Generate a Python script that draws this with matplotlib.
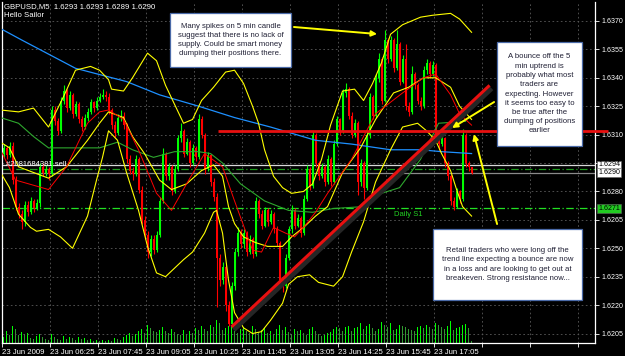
import matplotlib
matplotlib.use("Agg")
import matplotlib.pyplot as plt
import matplotlib.patheffects as pe
import matplotlib.transforms as mtrans
from matplotlib.patches import Rectangle
import numpy as np

plt.rcParams['font.family'] = ['Liberation Sans', 'DejaVu Sans']

PIP = 0.0001
BASE = 1.6200   # all *_pips values are pips above this price

# GBPUSD M5 bars, bar 0 = 05:05 on 23 Jun 2009
open_pips = [100, 103, 99, 104, 86, 72, 68, 64, 73, 69,
             75, 71, 74, 93, 90, 92, 89, 123, 117, 112,
             128, 133, 124, 131, 121, 126, 118, 114, 119, 122,
             127, 124, 128, 130, 131, 130, 123, 115, 111, 119,
             120, 115, 97, 91, 89, 97, 81, 65, 57, 48,
             55, 49, 57, 75, 100, 88, 93, 80, 92, 108,
             112, 100, 106, 95, 103, 98, 118, 110, 92, 99,
             85, 77, 45, 33, 40, 20, 10, 30, 48, 58,
             52, 58, 48, 55, 47, 75, 68, 62, 70, 64,
             68, 60, 53, 33, 30, 45, 60, 70, 62, 66,
             58, 76, 92, 83, 110, 95, 88, 93, 85, 97,
             85, 105, 118, 112, 132, 134, 120, 110, 116, 85,
             95, 82, 110, 130, 120, 140, 150, 128, 160, 150,
             160, 145, 158, 138, 150, 125, 122, 142, 136, 128,
             125, 144, 148, 142, 147, 110, 105, 108, 95, 88,
             75, 72, 80, 76, 110, 95, 93]
close_pips = [103, 99, 104, 86, 72, 68, 64, 73, 69, 75,
              71, 74, 93, 90, 92, 89, 123, 117, 112, 128,
              133, 124, 131, 121, 126, 118, 114, 119, 122, 127,
              124, 128, 130, 131, 130, 123, 115, 111, 119, 120,
              115, 97, 91, 89, 97, 81, 65, 57, 48, 55,
              49, 57, 75, 100, 88, 93, 80, 92, 108, 112,
              100, 106, 95, 103, 98, 118, 110, 92, 99, 85,
              77, 45, 33, 40, 20, 10, 30, 48, 58, 52,
              58, 48, 55, 47, 75, 68, 62, 70, 64, 68,
              60, 53, 33, 30, 45, 60, 70, 62, 66, 58,
              76, 92, 83, 110, 95, 88, 93, 85, 97, 85,
              105, 118, 112, 132, 134, 120, 110, 116, 85, 95,
              82, 110, 130, 120, 140, 150, 128, 160, 150, 160,
              145, 158, 138, 150, 125, 122, 142, 136, 128, 125,
              144, 148, 142, 147, 110, 105, 108, 95, 88, 75,
              72, 80, 76, 110, 95, 93, 90]
high_pips = [105, 104, 106, 106, 88, 74, 70, 75, 75, 77,
             76, 76, 95, 95, 94, 93, 125, 125, 119, 130,
             136, 134, 133, 132, 128, 127, 120, 121, 124, 129,
             128, 130, 132, 134, 133, 132, 124, 117, 121, 123,
             122, 116, 99, 93, 99, 98, 83, 67, 59, 57,
             57, 59, 77, 103, 101, 95, 94, 94, 110, 116,
             113, 108, 107, 105, 104, 121, 120, 111, 101, 100,
             87, 79, 47, 43, 41, 22, 32, 50, 61, 60,
             60, 59, 57, 56, 77, 76, 70, 72, 71, 70,
             69, 62, 54, 35, 47, 62, 73, 71, 68, 67,
             78, 94, 93, 112, 111, 96, 95, 94, 99, 98,
             107, 120, 119, 134, 137, 135, 122, 118, 117, 97,
             96, 112, 132, 131, 142, 153, 151, 165, 161, 162,
             161, 165, 159, 152, 158, 127, 146, 143, 137, 130,
             146, 150, 149, 149, 148, 112, 110, 109, 96, 89,
             77, 82, 81, 113, 111, 96, 93]
low_pips = [98, 97, 98, 84, 70, 66, 60, 62, 67, 68,
            69, 70, 72, 88, 88, 86, 88, 115, 110, 111,
            126, 122, 123, 119, 120, 116, 112, 113, 117, 121,
            122, 123, 127, 129, 128, 121, 113, 109, 110, 117,
            113, 95, 89, 86, 88, 79, 63, 55, 45, 46,
            47, 48, 56, 74, 86, 86, 78, 79, 91, 106,
            98, 99, 93, 94, 96, 97, 108, 89, 91, 83,
            75, 19, 30, 31, 17, 9, 9, 28, 46, 50,
            50, 46, 47, 45, 46, 66, 60, 61, 62, 63,
            58, 51, 30, 27, 29, 44, 58, 60, 61, 56,
            57, 75, 81, 82, 93, 86, 87, 83, 84, 83,
            84, 104, 110, 111, 130, 118, 108, 109, 78, 83,
            76, 81, 108, 118, 119, 138, 126, 127, 148, 149,
            143, 144, 136, 137, 123, 120, 121, 134, 126, 123,
            124, 142, 140, 141, 108, 102, 104, 93, 86, 73,
            70, 71, 74, 75, 93, 91, 89]
volume = [6, 12, 8, 17, 14, 8, 11, 9, 10, 5, 4, 7, 9, 6, 4, 3,
          9, 6, 4, 3, 7, 4, 6, 5, 3, 6, 4, 5, 3, 4, 2, 3,
          2, 3, 2, 3, 2, 5, 4, 3, 6, 8, 10, 7, 9, 12, 14, 10,
          18, 15, 12, 11, 13, 16, 12, 10, 14, 11, 9, 8, 13, 9, 12, 10,
          15, 13, 17, 14, 12, 18, 16, 23, 20, 13, 15, 17, 18, 12, 10, 14,
          16, 12, 10, 17, 14, 11, 13, 15, 10, 12, 9, 14, 18, 13, 16, 11,
          9, 14, 12, 13, 10, 8, 14, 16, 12, 9, 7, 8, 10, 11, 14, 16,
          15, 12, 16, 17, 12, 15, 16, 20, 14, 17, 19, 15, 12, 14, 21, 18,
          16, 20, 13, 14, 18, 17, 16, 14, 13, 12, 16, 17, 15, 18, 16, 14,
          20, 18, 16, 14, 17, 22, 13, 15, 16, 18, 19, 15, 2]

# indicator lines (bar index, pips)
blue_bars = [-1, 6, 24, 41, 52, 65, 77, 89, 104, 116, 129, 139, 146, 156]
blue_pips = [166, 160, 145, 138, 131, 125, 119, 114, 107, 105, 102, 102, 101, 100]
green_bars = [-1, 5, 10, 15, 24, 32, 38, 43, 50, 57, 65, 69, 73, 79, 87, 95,
              103, 110, 120, 126, 132, 139, 145, 154]
green_pips = [119, 116, 109, 103, 103, 103, 106, 102, 98, 101, 101, 100, 95, 84, 75, 70,
              69, 71, 72, 79, 82, 97, 116, 117]
red_bars = [-1, 4, 15, 21, 28, 32, 35, 40, 45, 51, 56, 61, 67, 73, 77, 83,
            86, 90, 94, 97, 100, 104, 108, 116, 124, 133, 140, 144, 149, 152, 156]
red_pips = [102, 86, 81, 93, 116, 122, 123, 118, 102, 79, 70, 84, 100, 93, 75, 49,
            48, 61, 58, 56, 61, 69, 79, 97, 121, 132, 140, 142, 131, 121, 115]
bb_up_bars = [-1, 5, 10, 15, 20, 24, 29, 32, 35, 36, 40, 43, 48, 51, 54, 60, 63, 66,
              70, 74, 77, 80, 83, 85, 87, 90, 93, 96, 100, 103, 106, 109, 113, 117,
              120, 123, 126, 129, 133, 139, 143, 149, 152, 156]
bb_up_pips = [123, 122, 124, 114, 130, 144, 146, 144, 139, 134, 133, 140, 153, 149, 136,
              116, 118, 128, 135, 143, 144, 137, 125, 116, 102, 88, 82, 79, 80, 84, 97,
              115, 133, 134, 128, 137, 148, 163, 168, 172, 173, 174, 171, 164]
bb_mid_bars = [-1, 2, 5, 10, 15, 21, 28, 32, 35, 40, 43, 47, 52, 56, 61, 66, 70, 73,
               75, 77, 80, 84, 88, 93, 96, 100, 104, 108, 113, 119, 124, 130, 135,
               140, 144, 149, 152, 156]
bb_mid_pips = [106, 103, 93, 90, 87, 93, 107, 116, 122, 119, 109, 100, 86, 81, 84, 91,
               94, 88, 72, 63, 56, 53, 51, 51, 56, 61, 67, 72, 90, 103, 118, 132, 135,
               140, 140, 135, 125, 118]
bb_low_bars = [-1, 2, 5, 9, 11, 15, 19, 23, 28, 31, 33, 35, 38, 41, 45, 48, 51, 54,
               60, 63, 67, 70, 71, 73, 75, 77, 80, 83, 86, 89, 93, 95, 98, 102, 105,
               110, 113, 116, 120, 124, 129, 133, 138, 141, 144, 146, 149, 151, 153, 156]
bb_low_pips = [90, 82, 68, 61, 59, 60, 56, 50, 67, 86, 98, 112, 107, 90, 70, 51, 37, 35,
               44, 48, 58, 69, 70, 58, 33, 16, 8, 5, 6, 12, 21, 31, 35, 36, 32,
               30, 35, 48, 64, 85, 102, 114, 116, 112, 107, 100, 91, 81, 72, 67]

trend_bars = [76, 162]
trend_pips = [8.5, 136]
resistance_price = 1.6312
resistance_from_bar = 71.5
daily_s1 = 1.6271
order_price = 1.6292
ask_price = 1.6294
bid_price = 1.6290

price_ticks = [1.6205, 1.6220, 1.6235, 1.6250, 1.6265, 1.6280, 1.6295,
               1.6310, 1.6325, 1.6340, 1.6355, 1.6370]
time_labels = ["23 Jun 2009", "23 Jun 06:25", "23 Jun 07:45", "23 Jun 09:05",
               "23 Jun 10:25", "23 Jun 11:45", "23 Jun 13:05", "23 Jun 14:25",
               "23 Jun 15:45", "23 Jun 17:05", "", "", ""]


def px(p):
    return BASE + np.asarray(p, dtype=float) * PIP


o, c, h, l = px(open_pips), px(close_pips), px(high_pips), px(low_pips)
idx = np.arange(len(o))

W, H = 625, 356
fig = plt.figure(figsize=(W / 100, H / 100), dpi=100, facecolor='black')
ax = fig.add_axes([1.7 / W, 13 / H, 593.8 / W, 341 / H])
axv = ax.twinx()
axv.set_zorder(0)
ax.set_zorder(1)
ax.patch.set_visible(False)
axv.set_facecolor('black')

ax.set_xlim(-0.6, 197.3)
ax.set_ylim(1.6200, 1.6380)

# volumes at the bottom of the chart
vol = np.array(volume)
vcol = ['#00ff00' if i == 0 or vol[i] >= vol[i - 1] else '#2f9a2f' for i in range(len(vol))]
axv.bar(idx, vol, width=0.4, color=vcol, linewidth=0, antialiased=False)
axv.set_ylim(0, 341)
axv.set_yticks([])
for s in axv.spines.values():
    s.set_visible(False)

# grid
grid_kw = dict(color='#5a5a5a', lw=0.6, ls=(0, (2, 3)), zorder=0)
for p in price_ticks:
    ax.axhline(p, **grid_kw)
tick_bars = [-0.5 + 16 * k for k in range(len(time_labels))]
for b in tick_bars:
    ax.axvline(b, **grid_kw)

# candles
up = c >= o
cols = np.where(up, '#00ff00', '#ff0000')
ax.vlines(idx, l, h, colors=cols, lw=0.8, zorder=2)
body = np.maximum(np.abs(c - o), 0.5 * PIP)
ax.bar(idx, body, bottom=np.minimum(o, c), width=0.62, color=cols, linewidth=0, zorder=2,
       antialiased=False)

# indicators
ax.plot(blue_bars, px(blue_pips), color='#1e90ff', lw=0.9, zorder=3)
ax.plot(green_bars, px(green_pips), color='#2ea82e', lw=0.8, zorder=3)
ax.plot(bb_up_bars, px(bb_up_pips), color='#ffff00', lw=0.8, zorder=3)
ax.plot(bb_mid_bars, px(bb_mid_pips), color='#ffff00', lw=0.8, zorder=3)
ax.plot(bb_low_bars, px(bb_low_pips), color='#ffff00', lw=0.8, zorder=3)
ax.plot(red_bars, px(red_pips), color='#ff0000', lw=0.7, zorder=3)

# price lines
ax.axhline(ask_price, color='#d8d8d8', lw=0.9, zorder=1.5)
ax.axhline(order_price, color='#1f9a1f', lw=0.9, ls=(0, (6, 2, 1, 2)), zorder=1.5)
ax.axhline(bid_price, color='#8a8a8a', lw=0.9, zorder=1.5)
ax.axhline(daily_s1, color='#22e022', lw=0.9, ls=(0, (6, 2, 1, 2)), zorder=1.5)
ax.text(0.7, ask_price + 0.2 * PIP, "#2081684381 sell", color='white', fontsize=5.5,
        va='center', ha='left', zorder=4)
ax.text(130.3, daily_s1 - 1.3 * PIP, "Daily S1", color='#22d022', fontsize=5.5,
        va='top', ha='left', zorder=4)

# hand-drawn lines
shadow = [pe.SimpleLineShadow(offset=(1.5, -2.2), shadow_color='#262626', alpha=1.0,
                              linewidth=3.5),
          pe.Normal()]
ax.plot(trend_bars, px(trend_pips), color='#e81010', lw=2.2, zorder=5,
        solid_capstyle='butt', path_effects=shadow)
ax.plot([resistance_from_bar, 201.5], [resistance_price, resistance_price], color='#e81010',
        lw=2.0, zorder=5, clip_on=False, solid_capstyle='butt')

# axes styling
ax.yaxis.tick_right()
ax.set_yticks(price_ticks)
ax.set_yticklabels(["" if p == 1.6295 else f"{p:.4f}" for p in price_ticks])
ax.set_xticks(tick_bars)
ax.set_xticklabels(time_labels)
for lab in ax.get_xticklabels():
    lab.set_horizontalalignment('left')
ax.tick_params(colors='white', labelsize=5.6, length=3, width=0.6, pad=1.5)
ax.tick_params(axis='y', labelsize=5.1, pad=1.5)
for s in ax.spines.values():
    s.set_color('white')
    s.set_linewidth(0.9)
ax.spines['top'].set_visible(False)

# price labels at the right edge
bt = mtrans.blended_transform_factory(ax.transAxes, ax.transData)
for price, fc in [(ask_price, 'white'), (bid_price, 'white'), (daily_s1, '#22cc22')]:
    ax.text(1.0045, price, f"{price:.4f}", transform=bt, fontsize=5.1, color='black',
            va='center', ha='left', zorder=6, clip_on=False,
            bbox=dict(boxstyle='square,pad=0.12', fc=fc, ec='#606060', lw=0.4))

# header
fig.text(4 / W, 1 - 3 / H, "GBPUSD,M5  1.6293 1.6293 1.6289 1.6290", color='white',
         fontsize=5.6, va='top', ha='left')
fig.text(4 / W, 1 - 12 / H, "Hello Sailor", color='white', fontsize=5.6, va='top', ha='left')

# comment boxes
notes = [
    ((170, 13, 291, 67), "Many spikes on 5 min candle\nsuggest that there is no lack of\n"
                         "supply. Could be smart money\ndumping their positions there."),
    ((497, 42, 582, 146), "A bounce off the 5\nmin uptrend is\nprobably what most\ntraders are\n"
                          "expecting. However\nit seems too easy to\nbe true after the\n"
                          "dumping of positions\nearlier"),
    ((433, 229, 582, 300), "Retail traders who were long off the\ntrend line expecting a bounce are now\n"
                           "in a loss and are looking to get out at\nbreakeven. Strong resistance now..."),
]
for (x0, y0, x1, y1), txt in notes:
    fig.add_artist(Rectangle((x0 / W, 1 - y1 / H), (x1 - x0) / W, (y1 - y0) / H,
                             transform=fig.transFigure, fc='white', ec='#4a6aa8', lw=0.9,
                             zorder=7))
    fig.text((x0 + x1) / 2 / W, 1 - (y0 + y1) / 2 / H, txt, ha='center', va='center',
             fontsize=5.6, color='#202035', linespacing=1.45, zorder=8)

# arrows (tail bar/price -> head bar/price)
arrows = [((96.8, 1.63668), (124.5, 1.63631)),
          ((163.5, 1.63272), (149.5, 1.63135)),
          ((164.5, 1.62628), (156.8, 1.63103))]
for tail, head in arrows:
    ax.annotate('', xy=head, xytext=tail, annotation_clip=False, zorder=9,
                arrowprops=dict(arrowstyle='-|>', color='#ffff00', lw=1.4,
                                mutation_scale=8, shrinkA=0, shrinkB=0))

fig.savefig('out.png', dpi=100, facecolor='black')
